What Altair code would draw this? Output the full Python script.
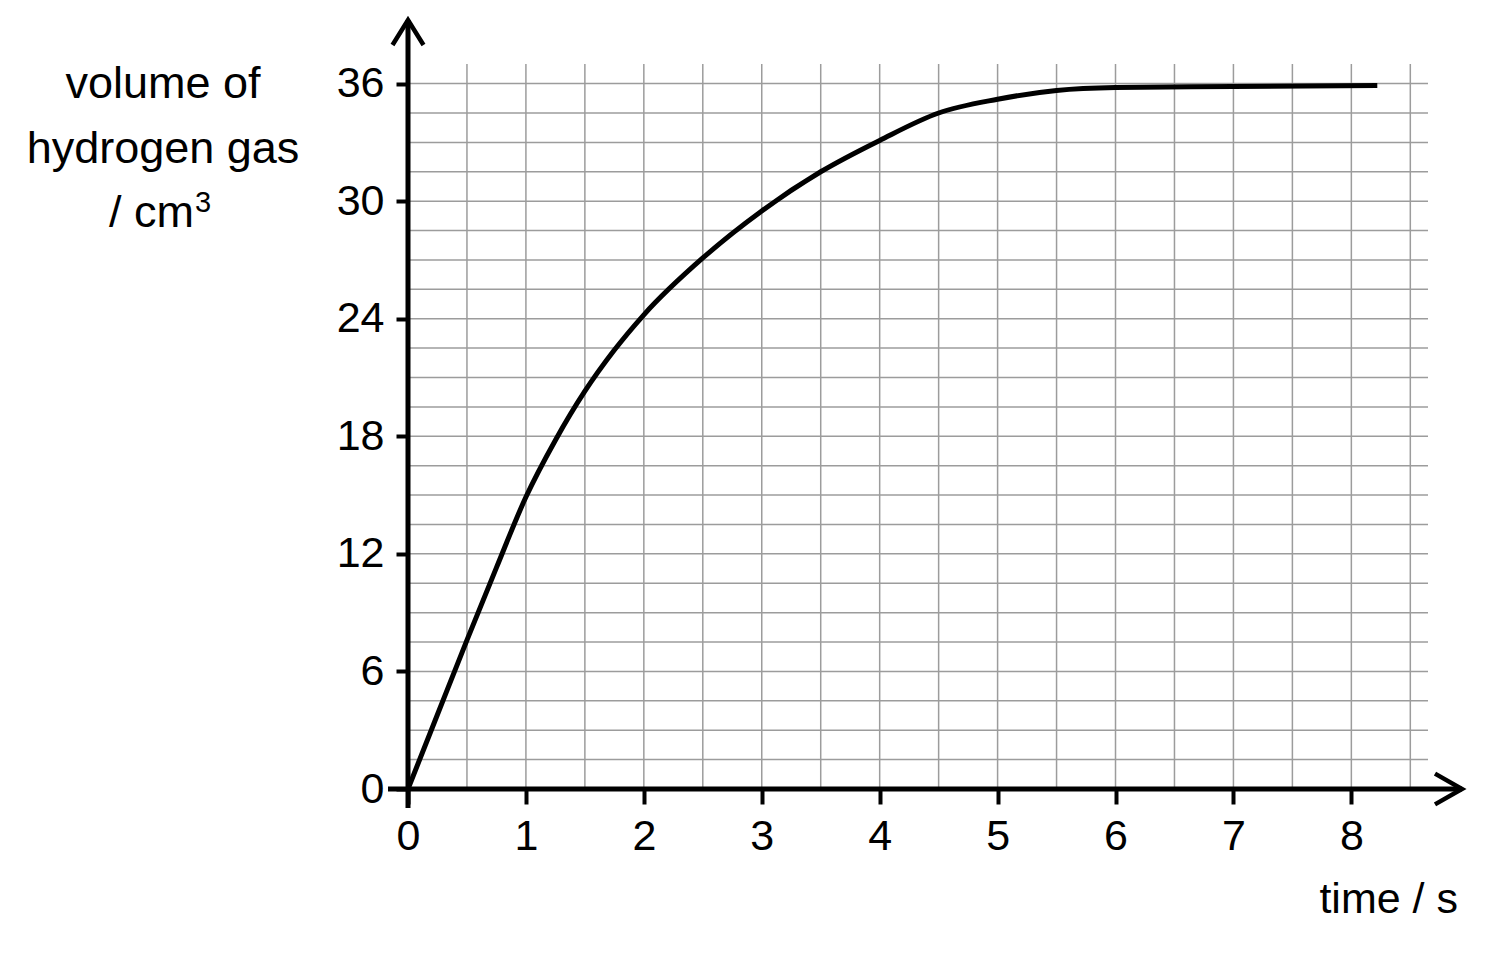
import altair as alt
import pandas as pd

# ---- data ----
time_s = [0, 0.25, 0.5, 0.75, 1, 1.25, 1.5, 1.75, 2, 2.5, 3, 3.5, 4, 4.5, 5, 5.5, 6, 7, 8.22]
volume_cm3 = [0, 3.8, 7.6, 11.3, 14.9, 17.8, 20.3, 22.4, 24.2, 27.1, 29.5, 31.5, 33.1,
              34.5, 35.2, 35.65, 35.8, 35.85, 35.9]

x_ticks = [0, 1, 2, 3, 4, 5, 6, 7, 8]
y_ticks = [0, 6, 12, 18, 24, 30, 36]
x_grid = [0.5, 1, 1.5, 2, 2.5, 3, 3.5, 4, 4.5, 5, 5.5, 6, 6.5, 7, 7.5, 8, 8.5]
y_grid = [1.5, 3, 4.5, 6, 7.5, 9, 10.5, 12, 13.5, 15, 16.5, 18, 19.5, 21, 22.5,
          24, 25.5, 27, 28.5, 30, 31.5, 33, 34.5, 36]

y_title_lines = ["volume of", "hydrogen gas"]
y_title_unit = "/ cm"
y_title_sup = "3"
x_title = "time / s"

X_DOMAIN = [0, 8.65]
Y_DOMAIN = [0, 37]
W, H = 1020, 725
FONT = "Liberation Sans"

curve = pd.DataFrame({"t": time_s, "v": volume_cm3})
vgrid = pd.DataFrame({"g": x_grid})
hgrid = pd.DataFrame({"g": y_grid})
one = pd.DataFrame({"k": [0]})

xscale = alt.Scale(domain=X_DOMAIN, nice=False, zero=False)
yscale = alt.Scale(domain=Y_DOMAIN, nice=False, zero=False)

xaxis = alt.Axis(values=x_ticks, domain=False, grid=False, title=None,
                 tickColor="black", tickWidth=4, tickSize=15,
                 labelFont=FONT, labelFontSize=43, labelColor="black",
                 labelPadding=11, labelFlush=False, labelOverlap=False,
                 format="d")
yaxis = alt.Axis(values=y_ticks, domain=False, grid=False, title=None,
                 tickColor="black", tickWidth=4, tickSize=12,
                 labelFont=FONT, labelFontSize=43, labelColor="black",
                 labelPadding=12, labelFlush=False, labelOverlap=False,
                 format="d")

grid_color = "#9c9c9c"

vlines = alt.Chart(vgrid).mark_rule(color=grid_color, strokeWidth=1.5).encode(
    x=alt.X("g:Q", scale=xscale, axis=xaxis)
)
hlines = alt.Chart(hgrid).mark_rule(color=grid_color, strokeWidth=1.5).encode(
    y=alt.Y("g:Q", scale=yscale, axis=yaxis)
)

line = alt.Chart(curve).mark_line(color="black", strokeWidth=5,
                                  interpolate="monotone").encode(
    x=alt.X("t:Q", scale=xscale, axis=xaxis),
    y=alt.Y("v:Q", scale=yscale, axis=yaxis),
)

# axis lines with arrows (decoration, pixel placement)
y_axis_line = alt.Chart(one).mark_rule(color="black", strokeWidth=5).encode(
    x=alt.value(0), y=alt.value(-44), y2=alt.value(H + 19)
)
x_axis_line = alt.Chart(one).mark_rule(color="black", strokeWidth=5).encode(
    x=alt.value(-20), x2=alt.value(1054), y=alt.value(H)
)
y_arrow = alt.Chart(one).mark_point(
    shape="M -0.62 1 L 0 0 L 0.62 1", size=2500, filled=False,
    stroke="black", strokeWidth=4.5, opacity=1, strokeJoin="miter"
).encode(x=alt.value(0), y=alt.value(-44))
x_arrow = alt.Chart(one).mark_point(
    shape="M -1 -0.57 L 0 0 L -1 0.57", size=2916, filled=False,
    stroke="black", strokeWidth=4.5, opacity=1, strokeJoin="miter"
).encode(x=alt.value(1054), y=alt.value(H))

y_title = alt.Chart(one).mark_text(
    text=y_title_lines, align="center", baseline="alphabetic",
    lineHeight=64.5, font=FONT, fontSize=45, color="black"
).encode(x=alt.value(-245), y=alt.value(34))
y_title_u = alt.Chart(one).mark_text(
    text=y_title_unit, align="right", baseline="alphabetic",
    font=FONT, fontSize=45, color="black"
).encode(x=alt.value(-214), y=alt.value(163))
y_title_s = alt.Chart(one).mark_text(
    text=y_title_sup, align="left", baseline="alphabetic",
    font=FONT, fontSize=29, color="black"
).encode(x=alt.value(-213), y=alt.value(148))

x_title_mark = alt.Chart(one).mark_text(
    text=x_title, align="right", baseline="alphabetic",
    font=FONT, fontSize=43, color="black"
).encode(x=alt.value(1050), y=alt.value(849))

chart = alt.layer(
    vlines, hlines, line, y_axis_line, x_axis_line, y_arrow, x_arrow,
    y_title, y_title_u, y_title_s, x_title_mark
).properties(
    width=W, height=H,
    autosize=alt.AutoSizeParams(type="none"),
    padding={"left": 400, "top": 56, "right": 60, "bottom": 160},
    background="white",
).configure_view(stroke=None)

chart.save("out.html", embed_options={"renderer": "svg", "actions": False})
